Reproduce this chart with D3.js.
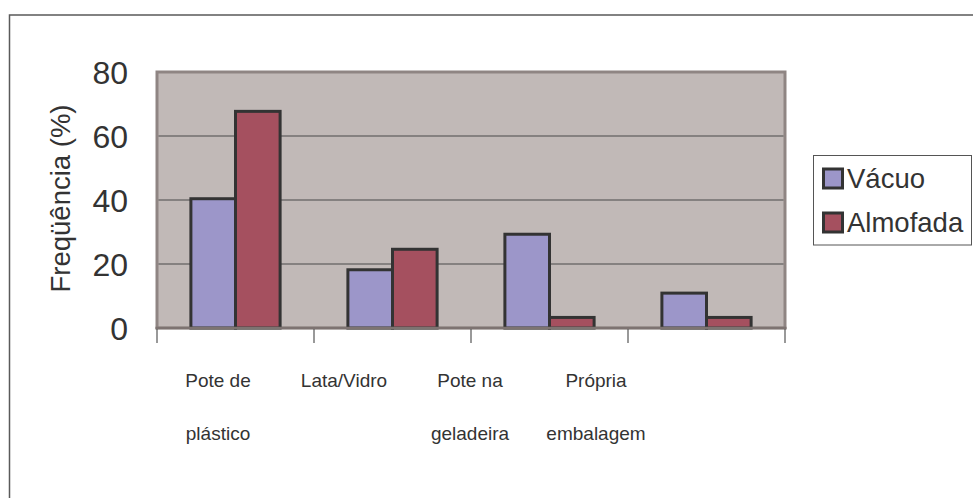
<!DOCTYPE html>
<html>
<head>
<meta charset="utf-8">
<script src="https://cdn.jsdelivr.net/npm/d3@7"></script>
<style>
  html, body { margin: 0; padding: 0; background: #fff; }
  svg { display: block; font-family: "Liberation Sans", Arial, sans-serif; }
</style>
</head>
<body>
<svg id="chart" width="973" height="498"></svg>
<script>
// Storage location by packaging type (%)
const categories = [["Pote de", "plástico"], ["Lata/Vidro"], ["Pote na", "geladeira"], ["Própria", "embalagem"]];
const seriesNames = ["Vácuo", "Almofada"];
const vacuo = [40.4, 18.2, 29.3, 10.9];
const almofada = [67.7, 24.6, 3.3, 3.3];
const yTicks = [0, 20, 40, 60, 80];
const colors = ["#9C96C9", "#A5505F"];

const svg = d3.select("#chart");
const textColor = "#333";

// outer chart frame (runs past the right and bottom edges)
svg.append("rect")
  .attr("x", 9.5).attr("y", 15)
  .attr("width", 1100).attr("height", 700)
  .attr("fill", "none").attr("stroke", "#5a5a5a").attr("stroke-width", 1.5);

const plot = { left: 157, right: 785, top: 72, bottom: 328 };
const keys = categories.map((c, i) => i);

const x0 = d3.scaleBand().domain(keys).range([plot.left, plot.right]).paddingInner(0).paddingOuter(0);
const x1 = d3.scaleBand().domain(seriesNames).range([0, x0.bandwidth()]).paddingInner(0).paddingOuter(0.76);
const y = d3.scaleLinear().domain([0, 80]).range([plot.bottom, plot.top]);

// plot background
svg.append("rect")
  .attr("x", plot.left).attr("y", plot.top)
  .attr("width", plot.right - plot.left).attr("height", plot.bottom - plot.top)
  .attr("fill", "#C1B9B7").attr("stroke", "#8F8583").attr("stroke-width", 3);

// gridlines
svg.append("g").selectAll("line")
  .data(yTicks.filter(t => t > 0 && t < 80))
  .join("line")
  .attr("x1", plot.left + 1.5).attr("x2", plot.right - 1.5)
  .attr("y1", d => y(d)).attr("y2", d => y(d))
  .attr("stroke", "#4a4a4a").attr("stroke-width", 1.2);

// bars
const data = [vacuo, almofada];
const groups = svg.append("g").selectAll("g")
  .data(keys)
  .join("g")
  .attr("transform", d => `translate(${x0(d)},0)`);

groups.selectAll("rect")
  .data(i => seriesNames.map((s, k) => ({ s, k, v: data[k][i] })))
  .join("rect")
  .attr("x", d => x1(d.s))
  .attr("y", d => y(d.v))
  .attr("width", x1.bandwidth())
  .attr("height", d => y(0) - y(d.v))
  .attr("fill", d => colors[d.k])
  .attr("stroke", "#333").attr("stroke-width", 3);

// x axis line and category ticks
svg.append("line")
  .attr("x1", plot.left - 1.5).attr("x2", plot.right + 1.5)
  .attr("y1", plot.bottom).attr("y2", plot.bottom)
  .attr("stroke", "#7d7371").attr("stroke-width", 2.5);

const tickPos = keys.map(k => x0(k)).concat([x0.range()[1]]);
svg.append("g").selectAll("line")
  .data(tickPos)
  .join("line")
  .attr("x1", d => d).attr("x2", d => d)
  .attr("y1", plot.bottom + 1).attr("y2", plot.bottom + 15)
  .attr("stroke", "#555").attr("stroke-width", 1.2);

// category labels
const xl = d3.scalePoint().domain(keys).range([218, 596]);
const labels = svg.append("g").selectAll("text")
  .data(keys)
  .join("text")
  .attr("x", d => xl(d))
  .attr("text-anchor", "middle")
  .attr("font-size", 19)
  .attr("fill", textColor);
labels.selectAll("tspan")
  .data(d => categories[d])
  .join("tspan")
  .attr("x", function () { return d3.select(this.parentNode).attr("x"); })
  .attr("y", (d, i) => 387 + i * 53)
  .text(d => d);

// y tick labels
svg.append("g").selectAll("text")
  .data(yTicks)
  .join("text")
  .attr("x", 128)
  .attr("y", d => y(d))
  .attr("dy", "0.36em")
  .attr("text-anchor", "end")
  .attr("font-size", 32)
  .attr("fill", textColor)
  .text(d => d);

// y axis title
svg.append("text")
  .attr("transform", `translate(70,${(105 + 292) / 2}) rotate(-90)`)
  .attr("text-anchor", "middle")
  .attr("font-size", 27.5)
  .attr("fill", textColor)
  .text("Freqüência (%)");

// legend
const legend = svg.append("g");
legend.append("rect")
  .attr("x", 813.5).attr("y", 155.5).attr("width", 158).attr("height", 89.5)
  .attr("fill", "#fff").attr("stroke", "#555").attr("stroke-width", 1);
const ly = d3.scalePoint().domain(seriesNames).range([178.5, 222.5]);
const items = legend.selectAll("g.item")
  .data(seriesNames)
  .join("g").attr("class", "item");
items.append("rect")
  .attr("x", 823.5).attr("y", d => ly(d) - 9.5)
  .attr("width", 19).attr("height", 19)
  .attr("fill", (d, i) => colors[i])
  .attr("stroke", "#333").attr("stroke-width", 3);
items.append("text")
  .attr("x", 847)
  .attr("y", d => ly(d) + 9)
  .attr("font-size", 27.5)
  .attr("fill", textColor)
  .text(d => d);
</script>
</body>
</html>
